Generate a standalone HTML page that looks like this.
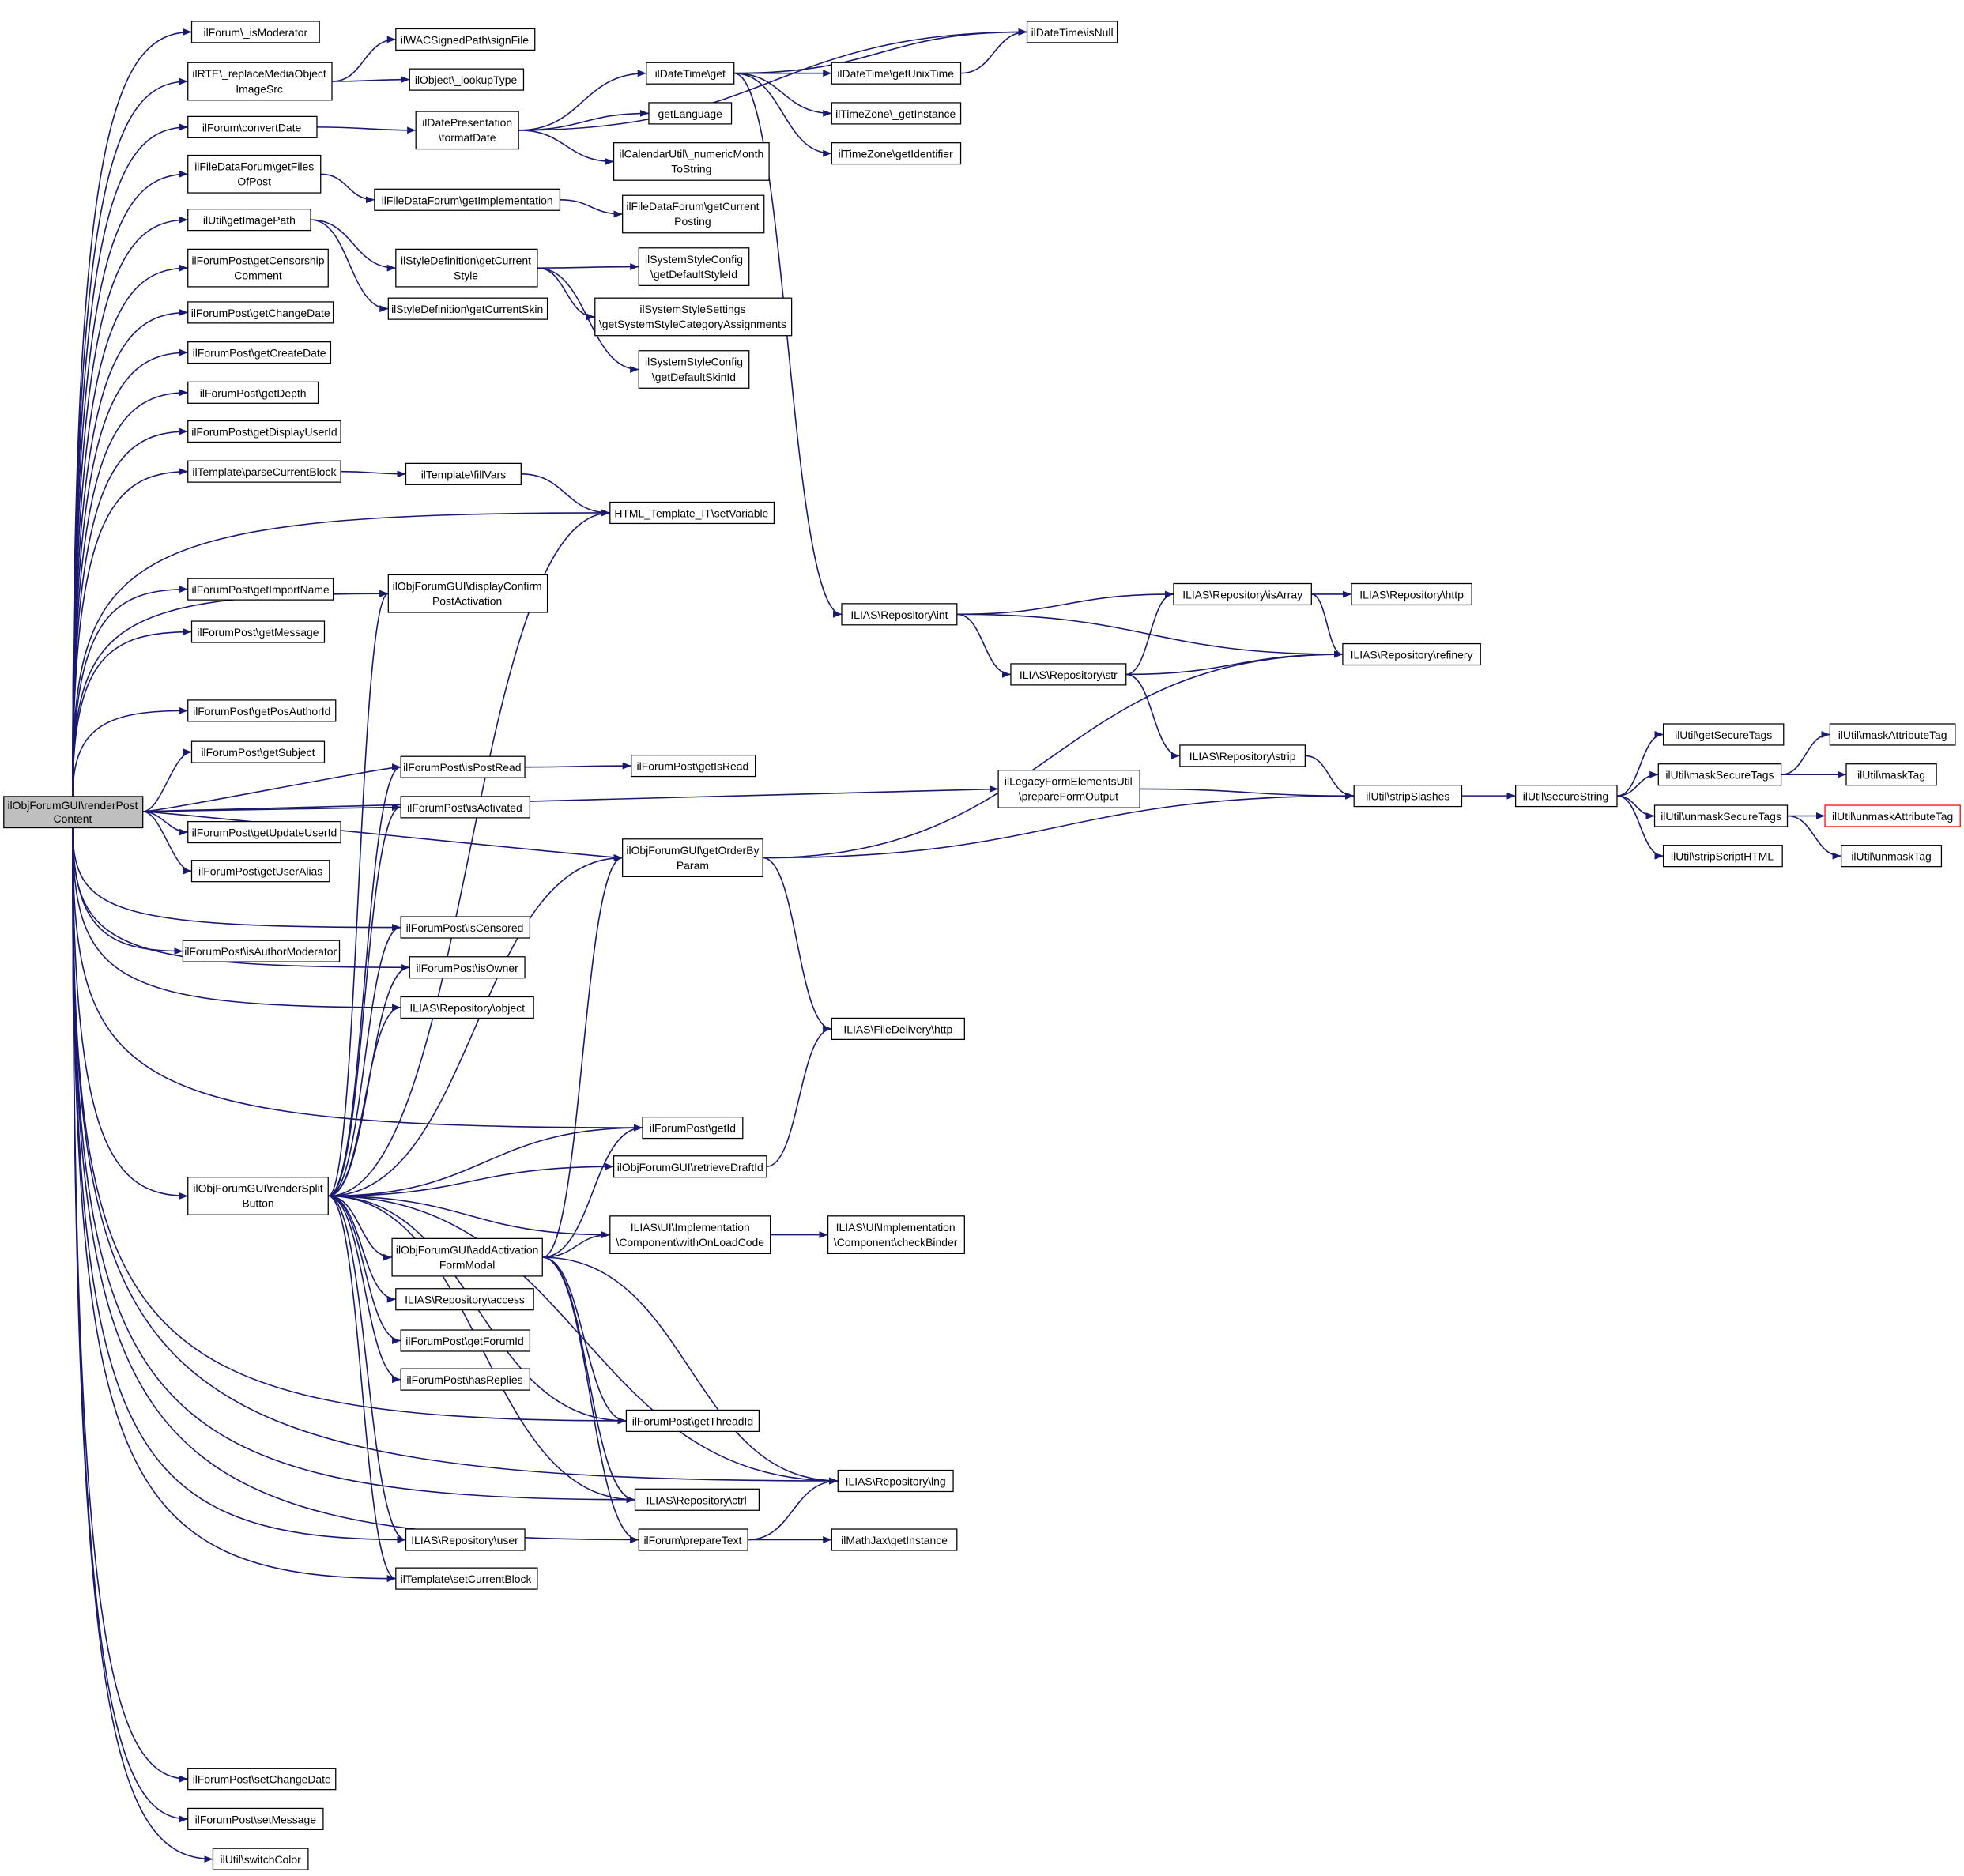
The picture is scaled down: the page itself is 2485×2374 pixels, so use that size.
<!DOCTYPE html>
<html><head><meta charset="utf-8"><style>
html,body{margin:0;padding:0;background:#fff}
svg{display:block}
text{font-family:"Liberation Sans",sans-serif;font-size:8.8px;fill:#000;text-anchor:middle}
rect{fill:#fff;stroke:#000;stroke-width:0.8}
</style></head><body>
<svg id="s" width="2485" height="2374" viewBox="0 0 1568 1498" xmlns="http://www.w3.org/2000/svg">
<defs><marker id="a" viewBox="0 0 10 10" refX="10" refY="5" markerWidth="7" markerHeight="7" orient="auto-start-reverse" markerUnits="userSpaceOnUse"><path d="M0,1 L10,5 L0,9 z" fill="#191970"/></marker></defs>
<g id="edges" fill="none" stroke="#191970" stroke-width="1"></g>
<g id="nodes">
<rect x="3" y="636" width="111" height="25" style="fill:#bfbfbf"/><text x="58" y="646">ilObjForumGUI\renderPost</text><text x="58" y="657">Content</text>
<rect x="153" y="17" width="102" height="17"/><text x="204" y="29">ilForum\_isModerator</text>
<rect x="150" y="50" width="115" height="30"/><text x="207" y="62">ilRTE\_replaceMediaObject</text><text x="207" y="74">ImageSrc</text>
<rect x="150" y="93" width="103" height="17"/><text x="201" y="105">ilForum\convertDate</text>
<rect x="150" y="124" width="106" height="30"/><text x="203" y="136">ilFileDataForum\getFiles</text><text x="203" y="148">OfPost</text>
<rect x="150" y="167" width="98" height="17"/><text x="199" y="179">ilUtil\getImagePath</text>
<rect x="150" y="199" width="112" height="30"/><text x="206" y="211">ilForumPost\getCensorship</text><text x="206" y="223">Comment</text>
<rect x="150" y="241" width="116" height="17"/><text x="208" y="253">ilForumPost\getChangeDate</text>
<rect x="150" y="273" width="114" height="17"/><text x="207" y="285">ilForumPost\getCreateDate</text>
<rect x="150" y="305" width="104" height="17"/><text x="202" y="317">ilForumPost\getDepth</text>
<rect x="150" y="336" width="122" height="17"/><text x="211" y="348">ilForumPost\getDisplayUserId</text>
<rect x="150" y="368" width="122" height="17"/><text x="211" y="380">ilTemplate\parseCurrentBlock</text>
<rect x="150" y="462" width="116" height="17"/><text x="208" y="474">ilForumPost\getImportName</text>
<rect x="153" y="496" width="106" height="17"/><text x="206" y="508">ilForumPost\getMessage</text>
<rect x="150" y="559" width="118" height="17"/><text x="209" y="571">ilForumPost\getPosAuthorId</text>
<rect x="153" y="592" width="106" height="17"/><text x="206" y="604">ilForumPost\getSubject</text>
<rect x="150" y="656" width="122" height="17"/><text x="211" y="668">ilForumPost\getUpdateUserId</text>
<rect x="153" y="687" width="110" height="17"/><text x="208" y="699">ilForumPost\getUserAlias</text>
<rect x="146" y="751" width="125" height="17"/><text x="208" y="763">ilForumPost\isAuthorModerator</text>
<rect x="150" y="940" width="112" height="30"/><text x="206" y="952">ilObjForumGUI\renderSplit</text><text x="206" y="964">Button</text>
<rect x="150" y="1412" width="118" height="17"/><text x="209" y="1424">ilForumPost\setChangeDate</text>
<rect x="150" y="1444" width="108" height="17"/><text x="204" y="1456">ilForumPost\setMessage</text>
<rect x="170" y="1476" width="76" height="17"/><text x="208" y="1488">ilUtil\switchColor</text>
<rect x="316" y="23" width="111" height="17"/><text x="371" y="35">ilWACSignedPath\signFile</text>
<rect x="327" y="55" width="91" height="17"/><text x="372" y="67">ilObject\_lookupType</text>
<rect x="332" y="89" width="82" height="30"/><text x="373" y="101">ilDatePresentation</text><text x="373" y="113">\formatDate</text>
<rect x="299" y="151" width="148" height="17"/><text x="373" y="163">ilFileDataForum\getImplementation</text>
<rect x="316" y="199" width="113" height="30"/><text x="372" y="211">ilStyleDefinition\getCurrent</text><text x="372" y="223">Style</text>
<rect x="310" y="238" width="127" height="17"/><text x="373" y="250">ilStyleDefinition\getCurrentSkin</text>
<rect x="324" y="370" width="92" height="17"/><text x="370" y="382">ilTemplate\fillVars</text>
<rect x="487" y="401" width="131" height="17"/><text x="552" y="413">HTML_Template_IT\setVariable</text>
<rect x="310" y="459" width="127" height="30"/><text x="373" y="471">ilObjForumGUI\displayConfirm</text><text x="373" y="483">PostActivation</text>
<rect x="320" y="604" width="99" height="17"/><text x="369" y="616">ilForumPost\isPostRead</text>
<rect x="320" y="636" width="103" height="17"/><text x="371" y="648">ilForumPost\isActivated</text>
<rect x="320" y="732" width="103" height="17"/><text x="371" y="744">ilForumPost\isCensored</text>
<rect x="327" y="764" width="92" height="17"/><text x="373" y="776">ilForumPost\isOwner</text>
<rect x="320" y="796" width="106" height="17"/><text x="373" y="808">ILIAS\Repository\object</text>
<rect x="313" y="989" width="120" height="30"/><text x="373" y="1001">ilObjForumGUI\addActivation</text><text x="373" y="1013">FormModal</text>
<rect x="316" y="1029" width="110" height="17"/><text x="371" y="1041">ILIAS\Repository\access</text>
<rect x="320" y="1062" width="103" height="17"/><text x="371" y="1074">ilForumPost\getForumId</text>
<rect x="320" y="1093" width="103" height="17"/><text x="371" y="1105">ilForumPost\hasReplies</text>
<rect x="324" y="1221" width="95" height="17"/><text x="371" y="1233">ILIAS\Repository\user</text>
<rect x="316" y="1252" width="113" height="17"/><text x="372" y="1264">ilTemplate\setCurrentBlock</text>
<rect x="516" y="50" width="70" height="17"/><text x="551" y="62">ilDateTime\get</text>
<rect x="518" y="82" width="66" height="17"/><text x="551" y="94">getLanguage</text>
<rect x="490" y="114" width="124" height="30"/><text x="552" y="126">ilCalendarUtil\_numericMonth</text><text x="552" y="138">ToString</text>
<rect x="497" y="156" width="113" height="30"/><text x="553" y="168">ilFileDataForum\getCurrent</text><text x="553" y="180">Posting</text>
<rect x="510" y="198" width="88" height="30"/><text x="554" y="210">ilSystemStyleConfig</text><text x="554" y="222">\getDefaultStyleId</text>
<rect x="475" y="238" width="157" height="30"/><text x="553" y="250">ilSystemStyleSettings</text><text x="553" y="262">\getSystemStyleCategoryAssignments</text>
<rect x="510" y="280" width="88" height="30"/><text x="554" y="292">ilSystemStyleConfig</text><text x="554" y="304">\getDefaultSkinId</text>
<rect x="504" y="603" width="99" height="17"/><text x="553" y="615">ilForumPost\getIsRead</text>
<rect x="497" y="670" width="112" height="30"/><text x="553" y="682">ilObjForumGUI\getOrderBy</text><text x="553" y="694">Param</text>
<rect x="513" y="892" width="80" height="17"/><text x="553" y="904">ilForumPost\getId</text>
<rect x="490" y="923" width="122" height="17"/><text x="551" y="935">ilObjForumGUI\retrieveDraftId</text>
<rect x="487" y="971" width="128" height="30"/><text x="551" y="983">ILIAS\UI\Implementation</text><text x="551" y="995">\Component\withOnLoadCode</text>
<rect x="500" y="1126" width="106" height="17"/><text x="553" y="1138">ilForumPost\getThreadId</text>
<rect x="507" y="1189" width="99" height="17"/><text x="556" y="1201">ILIAS\Repository\ctrl</text>
<rect x="510" y="1221" width="87" height="17"/><text x="553" y="1233">ilForum\prepareText</text>
<rect x="820" y="17" width="72" height="17"/><text x="856" y="29">ilDateTime\isNull</text>
<rect x="664" y="50" width="103" height="17"/><text x="715" y="62">ilDateTime\getUnixTime</text>
<rect x="664" y="82" width="103" height="17"/><text x="715" y="94">ilTimeZone\_getInstance</text>
<rect x="664" y="114" width="103" height="17"/><text x="715" y="126">ilTimeZone\getIdentifier</text>
<rect x="672" y="482" width="92" height="17"/><text x="718" y="494">ILIAS\Repository\int</text>
<rect x="664" y="813" width="106" height="17"/><text x="717" y="825">ILIAS\FileDelivery\http</text>
<rect x="661" y="971" width="109" height="30"/><text x="715" y="983">ILIAS\UI\Implementation</text><text x="715" y="995">\Component\checkBinder</text>
<rect x="669" y="1174" width="92" height="17"/><text x="715" y="1186">ILIAS\Repository\lng</text>
<rect x="664" y="1221" width="100" height="17"/><text x="714" y="1233">ilMathJax\getInstance</text>
<rect x="807" y="530" width="92" height="17"/><text x="853" y="542">ILIAS\Repository\str</text>
<rect x="797" y="615" width="113" height="30"/><text x="853" y="627">ilLegacyFormElementsUtil</text><text x="853" y="639">\prepareFormOutput</text>
<rect x="937" y="466" width="110" height="17"/><text x="992" y="478">ILIAS\Repository\isArray</text>
<rect x="942" y="595" width="100" height="17"/><text x="992" y="607">ILIAS\Repository\strip</text>
<rect x="1079" y="466" width="96" height="17"/><text x="1127" y="478">ILIAS\Repository\http</text>
<rect x="1072" y="514" width="110" height="17"/><text x="1127" y="526">ILIAS\Repository\refinery</text>
<rect x="1081" y="627" width="86" height="17"/><text x="1124" y="639">ilUtil\stripSlashes</text>
<rect x="1210" y="627" width="81" height="17"/><text x="1250" y="639">ilUtil\secureString</text>
<rect x="1328" y="578" width="96" height="17"/><text x="1376" y="590">ilUtil\getSecureTags</text>
<rect x="1324" y="610" width="98" height="17"/><text x="1373" y="622">ilUtil\maskSecureTags</text>
<rect x="1321" y="643" width="106" height="17"/><text x="1374" y="655">ilUtil\unmaskSecureTags</text>
<rect x="1328" y="675" width="95" height="17"/><text x="1375" y="687">ilUtil\stripScriptHTML</text>
<rect x="1461" y="578" width="100" height="17"/><text x="1511" y="590">ilUtil\maskAttributeTag</text>
<rect x="1474" y="610" width="72" height="17"/><text x="1510" y="622">ilUtil\maskTag</text>
<rect x="1457" y="643" width="108" height="17" style="stroke:#f00"/><text x="1511" y="655">ilUtil\unmaskAttributeTag</text>
<rect x="1470" y="675" width="80" height="17"/><text x="1510" y="687">ilUtil\unmaskTag</text>
</g>
</svg>
<script>
(function(){
var R={};
document.querySelectorAll('#nodes rect').forEach(function(r){
 var t=r.nextElementSibling,n='';
 while(t&&t.tagName=='text'){n+=t.textContent;t=t.nextElementSibling;}
 R[n]={x:+r.getAttribute('x'),y:+r.getAttribute('y'),w:+r.getAttribute('width'),h:+r.getAttribute('height')};
});
function f(k){for(var n in R){if(n.indexOf(k)>=0)return R[n];}return null;}
var root=R['ilObjForumGUI\\renderPostContent'];
var rootT=['_isModerator','_replaceMedia','ilForum\\convertDate','getFiles','getImagePath','getCensorship','getChangeDate','getCreateDate','getDepth','getDisplayUserId','parseCurrentBlock','getImportName','getMessage','getPosAuthorId','getSubject','getUpdateUserId','getUserAlias','isAuthorModerator','renderSplit','setChangeDate','setMessage','switchColor','setVariable','displayConfirm','isPostRead','isActivated','getOrderBy','ilForumPost\\getId','isCensored','isOwner','Repository\\object','Repository\\user','setCurrentBlock','getThreadId','Repository\\ctrl','prepareText','Repository\\lng','prepareFormOutput'];
var E=[['_replaceMedia','signFile'],['_replaceMedia','_lookupType'],['ilForum\\convertDate','formatDate'],['getFiles','getImplementation'],['getImagePath','getCurrentStyle'],['getImagePath','getCurrentSkin'],['parseCurrentBlock','fillVars'],['fillVars','setVariable'],['formatDate','isNull'],['formatDate','ilDateTime\\get'],['formatDate','getLanguage'],['formatDate','numericMonth'],['getImplementation','getCurrentPosting'],['getCurrentStyle','DefaultStyleId'],['getCurrentStyle','CategoryAssign'],['getCurrentStyle','DefaultSkinId'],['ilDateTime\\get','isNull'],['ilDateTime\\get','getUnixTime'],['ilDateTime\\get','_getInstance'],['ilDateTime\\get','getIdentifier'],['ilDateTime\\get','Repository\\int'],['getUnixTime','isNull'],['isPostRead','getIsRead'],['getOrderBy','refinery'],['getOrderBy','stripSlashes'],['getOrderBy','FileDelivery'],['Repository\\int','isArray'],['Repository\\int','Repository\\str'],['Repository\\int','refinery'],['Repository\\str','isArray'],['Repository\\str','refinery'],['Repository\\str','Repository\\strip'],['isArray','Repository\\http'],['isArray','refinery'],['Repository\\strip','stripSlashes'],['prepareFormOutput','stripSlashes'],['stripSlashes','secureString'],['secureString','getSecureTags'],['secureString','\\maskSecureTags'],['secureString','unmaskSecureTags'],['secureString','stripScriptHTML'],['\\maskSecureTags','\\maskAttributeTag'],['\\maskSecureTags','\\maskTag'],['unmaskSecureTags','unmaskAttributeTag'],['unmaskSecureTags','unmaskTag'],['retrieveDraft','FileDelivery'],['withOnLoad','checkBinder'],['prepareText','Repository\\lng'],['prepareText','MathJax']];
['displayConfirm','isPostRead','isActivated','isCensored','isOwner','Repository\\object','setVariable','getOrderBy','ilForumPost\\getId','retrieveDraft','withOnLoad','addActivation','Repository\\access','getForumId','hasReplies','getThreadId','Repository\\lng','Repository\\ctrl','Repository\\user','setCurrentBlock'].forEach(function(t){E.push(['renderSplit',t]);});
['withOnLoad','getOrderBy','ilForumPost\\getId','getThreadId','Repository\\ctrl','Repository\\lng','prepareText'].forEach(function(t){E.push(['addActivation',t]);});
var g=document.getElementById('edges');
function P(s){var p=document.createElementNS('http://www.w3.org/2000/svg','path');p.setAttribute('d',s);p.setAttribute('marker-end','url(#a)');g.appendChild(p);}
rootT.forEach(function(k){var t=f(k);if(!t)return;var tx=t.x,ty=t.y+t.h/2;
 var sx=58,sy=ty<root.y?root.y:root.y+root.h;
 if(Math.abs(ty-648)<80){sx=114;sy=648;P('M'+sx+','+sy+' C'+(sx+15)+','+sy+' '+(tx-15)+','+ty+' '+tx+','+ty);return;}
 P('M'+sx+','+sy+' C'+sx+','+(sy+(ty-sy)*0.85)+' '+(sx+30)+','+ty+' '+tx+','+ty);});
E.forEach(function(e){var s=f(e[0]),t=f(e[1]);if(!s||!t)return;
 var sx=s.x+s.w,sy=s.y+s.h/2,tx=t.x,ty=t.y+t.h/2;
 if(tx<sx){sx=s.x+s.w/2;sy=ty<sy?s.y:s.y+s.h;tx=t.x+t.w/2;ty=ty<sy?t.y+t.h:t.y;
  P('M'+sx+','+sy+' C'+sx+','+((sy+ty)/2)+' '+tx+','+((sy+ty)/2)+' '+tx+','+ty);return;}
 var m=(tx-sx)/2;P('M'+sx+','+sy+' C'+(sx+m)+','+sy+' '+(tx-m)+','+ty+' '+tx+','+ty);});
})();
</script>
</body></html>
